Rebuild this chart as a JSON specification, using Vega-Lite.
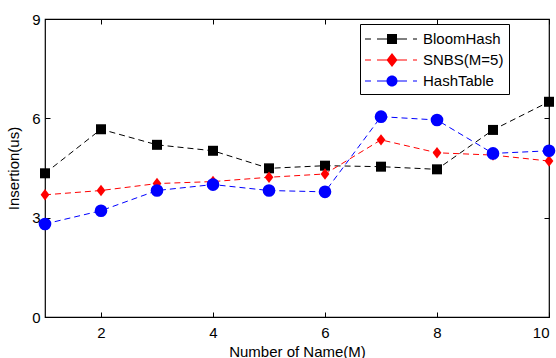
{
  "$schema": "https://vega.github.io/schema/vega-lite/v6.json",
  "width": 504,
  "height": 298,
  "autosize": {"type": "none"},
  "padding": {"left": 45, "top": 19, "right": 7, "bottom": 41},
  "background": "white",
  "config": {
    "font": "Liberation Sans",
    "view": {"stroke": "black", "strokeWidth": 1.2},
    "axis": {"grid": false, "domain": false, "labelFont": "Liberation Sans", "titleFont": "Liberation Sans", "labelFontSize": 15, "titleFontSize": 15, "titleFontWeight": "normal", "labelColor": "black", "titleColor": "black", "tickColor": "black"}
  },
  "data": {"values": [
    {"x": 1, "y": 4.34, "s": "BloomHash"},
    {"x": 2, "y": 5.67, "s": "BloomHash"},
    {"x": 3, "y": 5.2, "s": "BloomHash"},
    {"x": 4, "y": 5.02, "s": "BloomHash"},
    {"x": 5, "y": 4.49, "s": "BloomHash"},
    {"x": 6, "y": 4.57, "s": "BloomHash"},
    {"x": 7, "y": 4.54, "s": "BloomHash"},
    {"x": 8, "y": 4.46, "s": "BloomHash"},
    {"x": 9, "y": 5.65, "s": "BloomHash"},
    {"x": 10, "y": 6.5, "s": "BloomHash"},
    {"x": 1, "y": 3.69, "s": "SNBS(M=5)"},
    {"x": 2, "y": 3.82, "s": "SNBS(M=5)"},
    {"x": 3, "y": 4.03, "s": "SNBS(M=5)"},
    {"x": 4, "y": 4.09, "s": "SNBS(M=5)"},
    {"x": 5, "y": 4.22, "s": "SNBS(M=5)"},
    {"x": 6, "y": 4.32, "s": "SNBS(M=5)"},
    {"x": 7, "y": 5.35, "s": "SNBS(M=5)"},
    {"x": 8, "y": 4.96, "s": "SNBS(M=5)"},
    {"x": 9, "y": 4.89, "s": "SNBS(M=5)"},
    {"x": 10, "y": 4.71, "s": "SNBS(M=5)"},
    {"x": 1, "y": 2.81, "s": "HashTable"},
    {"x": 2, "y": 3.21, "s": "HashTable"},
    {"x": 3, "y": 3.82, "s": "HashTable"},
    {"x": 4, "y": 4.0, "s": "HashTable"},
    {"x": 5, "y": 3.82, "s": "HashTable"},
    {"x": 6, "y": 3.78, "s": "HashTable"},
    {"x": 7, "y": 6.05, "s": "HashTable"},
    {"x": 8, "y": 5.95, "s": "HashTable"},
    {"x": 9, "y": 4.94, "s": "HashTable"},
    {"x": 10, "y": 5.02, "s": "HashTable"}
  ]},
  "layer": [
    {
      "encoding": {
        "x": {"field": "x", "type": "quantitative", "scale": {"domain": [1, 10], "nice": false, "zero": false},
          "axis": {"values": [2, 4, 6, 8, 10], "tickSize": -5, "labelPadding": 13, "title": "Number of Name(M)", "titlePadding": 4}},
        "y": {"field": "y", "type": "quantitative", "scale": {"domain": [0, 9], "nice": false},
          "axis": {"values": [0, 3, 6, 9], "tickSize": -5, "labelPadding": 10, "title": "Insertion(us)", "titlePadding": 10}},
        "color": {"field": "s", "type": "nominal", "scale": {"domain": ["BloomHash", "SNBS(M=5)", "HashTable"], "range": ["#000000", "#ff0000", "#0000ff"]}, "legend": null}
      },
      "layer": [
        {
          "mark": {"type": "line", "strokeWidth": 1, "strokeDash": [6, 4]},
          "encoding": {"detail": {"field": "s"}}
        },
        {
          "mark": {"type": "point", "filled": true, "opacity": 1},
          "encoding": {
            "shape": {"field": "s", "type": "nominal", "scale": {"domain": ["BloomHash", "SNBS(M=5)", "HashTable"], "range": ["square", "M0,-1L0.77,0L0,1L-0.77,0Z", "circle"]}, "legend": null},
            "size": {"field": "s", "type": "nominal", "scale": {"domain": ["BloomHash", "SNBS(M=5)", "HashTable"], "range": [100, 160, 100]}, "legend": null}
          }
        }
      ]
    },
    {
      "mark": {"type": "point", "filled": true, "opacity": 0},
      "encoding": {
        "x": {"field": "x", "type": "quantitative", "scale": {"domain": [1, 10], "nice": false, "zero": false}, "axis": null},
        "y": {"field": "y", "type": "quantitative", "scale": {"domain": [0, 9], "nice": false}, "axis": null},
        "color": {"field": "s", "type": "nominal", "scale": {"domain": ["BloomHash", "SNBS(M=5)", "HashTable"], "range": ["#000000", "#ff0000", "#0000ff"]},
          "legend": {"title": null, "orient": "none", "legendX": 315, "legendY": 5, "strokeColor": "black", "fillColor": "white", "padding": 5, "labelFontSize": 15, "labelFont": "Liberation Sans", "labelColor": "black", "rowPadding": 3, "labelOffset": 21, "symbolOffset": 17, "symbolSize": 400, "symbolOpacity": 1, "symbolStrokeWidth": 0}},
        "shape": {"field": "s", "type": "nominal", "scale": {"domain": ["BloomHash", "SNBS(M=5)", "HashTable"], "range": [
          "M-2.7,-0.05H-2.1V0.05H-2.7Z M-1.5,-0.05H1.5V0.05H-1.5Z M2.1,-0.05H2.5V0.05H2.1Z M-0.5,-0.5H0.5V0.5H-0.5Z",
          "M-2.7,-0.05H-2.1V0.05H-2.7Z M-1.5,-0.05H1.5V0.05H-1.5Z M2.1,-0.05H2.5V0.05H2.1Z M0,-0.7L0.55,0L0,0.7L-0.55,0Z",
          "M-2.7,-0.05H-2.1V0.05H-2.7Z M-1.5,-0.05H1.5V0.05H-1.5Z M2.1,-0.05H2.5V0.05H2.1Z M0.55,0A0.55,0.55 0 1,1 -0.55,0A0.55,0.55 0 1,1 0.55,0Z"]},
          "legend": {"title": null, "orient": "none", "legendX": 315, "legendY": 5, "strokeColor": "black", "fillColor": "white", "padding": 5, "labelFontSize": 15, "labelFont": "Liberation Sans", "labelColor": "black", "rowPadding": 3, "labelOffset": 21, "symbolOffset": 17, "symbolSize": 400, "symbolOpacity": 1, "symbolStrokeWidth": 0}}
      }
    },
    {
      "mark": {"type": "rule", "opacity": 0},
      "encoding": {
        "x": {"field": "x", "type": "quantitative", "scale": {"domain": [1, 10], "nice": false, "zero": false},
          "axis": {"orient": "top", "values": [2, 4, 6, 8, 10], "tickSize": -5, "labels": false, "title": null}},
        "y": {"field": "y", "type": "quantitative", "scale": {"domain": [0, 9], "nice": false},
          "axis": {"orient": "right", "values": [0, 3, 6, 9], "tickSize": -5, "labels": false, "title": null}}
      }
    }
  ],
  "resolve": {"axis": {"x": "independent", "y": "independent"}, "scale": {"color": "independent", "shape": "independent"}}
}
